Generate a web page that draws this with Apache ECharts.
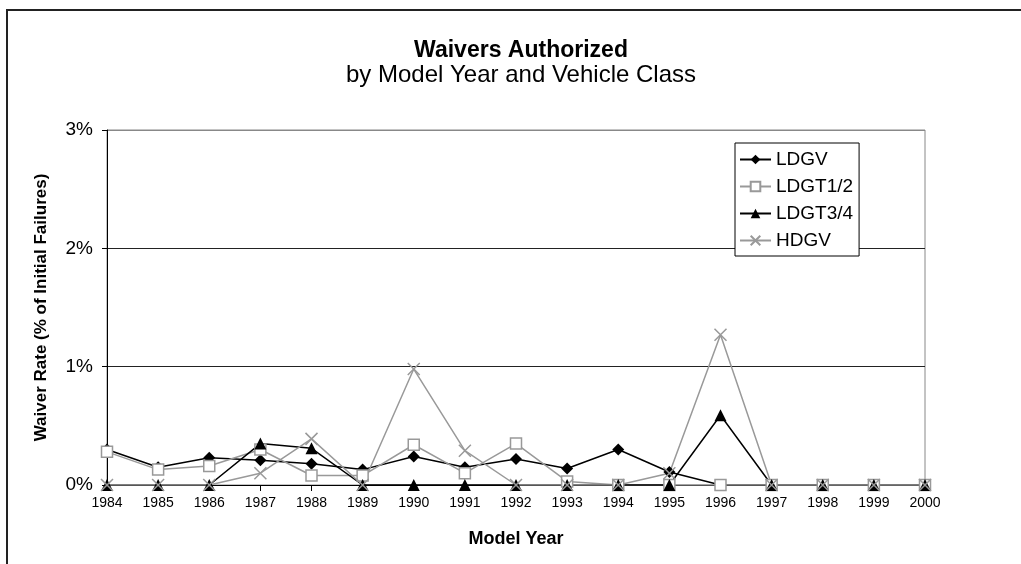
<!DOCTYPE html>
<html>
<head>
<meta charset="utf-8">
<script src="https://cdn.jsdelivr.net/npm/echarts@6/dist/echarts.min.js"></script>
<style>
html, body { margin: 0; padding: 0; background: #fff; }
#chart { width: 1021px; height: 564px; }
</style>
</head>
<body>
<div id="chart"></div>
<script>
// model years
var years = ['1984', '1985', '1986', '1987', '1988', '1989', '1990', '1991', '1992',
    '1993', '1994', '1995', '1996', '1997', '1998', '1999', '2000'];
// waiver rate, percent of initial failures
var ldgv = [0.30, 0.15, 0.23, 0.21, 0.18, 0.13, 0.24, 0.15, 0.22, 0.14, 0.30, 0.11, 0, 0, 0, 0, 0];
var ldgt12 = [0.28, 0.13, 0.16, 0.30, 0.08, 0.08, 0.34, 0.10, 0.35, 0.03, 0, 0, 0, 0, 0, 0, 0];
var ldgt34 = [0, 0, 0, 0.35, 0.31, 0, 0, 0, 0, 0, 0, 0, 0.59, 0, 0, 0, 0];
var hdgv = [0, 0, 0, 0.10, 0.39, 0, 0.98, 0.29, 0, 0, 0, 0.10, 1.27, 0, 0, 0, 0];
var yTicks = [0, 1, 2, 3];

var chart = echarts.init(document.getElementById('chart'));
var font = 'Liberation Sans, Arial, sans-serif';
var crossPath = 'path://M0,0L10,10M10,0L0,10';

var option = {
    animation: false,
    backgroundColor: '#fff',
    textStyle: { fontFamily: font },
    title: {
        text: 'Waivers Authorized',
        subtext: 'by Model Year and Vehicle Class',
        left: 516,
        textAlign: 'center',
        top: 34,
        itemGap: 1,
        textStyle: { fontFamily: font, fontSize: 23, fontWeight: 'bold', color: '#000' },
        subtextStyle: { fontFamily: font, fontSize: 24, color: '#000' }
    },
    graphic: [
        { type: 'line', shape: { x1: 6, y1: 10, x2: 1021, y2: 10 }, style: { stroke: '#222', lineWidth: 2 } },
        { type: 'line', shape: { x1: 7, y1: 10, x2: 7, y2: 564 }, style: { stroke: '#222', lineWidth: 2 } }
    ],
    legend: {
        left: 735,
        top: 143,
        orient: 'vertical',
        backgroundColor: '#fff',
        borderColor: '#000',
        borderWidth: 1,
        padding: [7, 6, 6, 4],
        itemWidth: 31,
        itemHeight: 12,
        itemGap: 8,
        textStyle: { fontFamily: font, fontSize: 19, color: '#000' },
        data: ['LDGV', 'LDGT1/2', 'LDGT3/4', 'HDGV']
    },
    grid: {
        left: 107, right: 96, top: 130, bottom: 79,
        show: true,
        borderColor: '#888',
        borderWidth: 1
    },
    xAxis: {
        type: 'category',
        data: years,
        boundaryGap: false,
        name: 'Model Year',
        nameLocation: 'middle',
        nameGap: 45,
        nameTextStyle: { fontFamily: font, fontSize: 18, fontWeight: 'bold', color: '#000' },
        axisLine: { lineStyle: { color: '#000', width: 1 } },
        axisTick: { show: true, alignWithLabel: true, length: 6, lineStyle: { color: '#000' } },
        axisLabel: { fontFamily: font, fontSize: 14, color: '#000', margin: 11, interval: 0 },
        splitLine: { show: false }
    },
    yAxis: {
        type: 'value',
        min: yTicks[0],
        max: yTicks[yTicks.length - 1],
        interval: 1,
        name: 'Waiver Rate (% of Initial Failures)',
        nameLocation: 'middle',
        nameGap: 57,
        nameTextStyle: { fontFamily: font, fontSize: 17, fontWeight: 'bold', color: '#000' },
        axisLine: { show: true, lineStyle: { color: '#000', width: 1 } },
        axisTick: { show: true, length: 5, lineStyle: { color: '#000' } },
        axisLabel: {
            fontFamily: font, fontSize: 19, color: '#000', margin: 14,
            formatter: function(v) { return v + '%'; }
        },
        splitLine: { show: true, lineStyle: { color: ['#000', '#222', '#222', '#888'], width: 1 } }
    },
    series: [{
            name: 'LDGV',
            type: 'line',
            data: ldgv,
            symbol: 'diamond',
            symbolSize: 12,
            lineStyle: { color: '#000', width: 1.5 },
            itemStyle: { color: '#000' }
        },
        {
            name: 'LDGT1/2',
            type: 'line',
            data: ldgt12,
            symbol: 'rect',
            symbolSize: 11,
            lineStyle: { color: '#999', width: 1.5 },
            itemStyle: { color: '#fff', borderColor: '#999', borderWidth: 1.5 }
        },
        {
            name: 'LDGT3/4',
            type: 'line',
            data: ldgt34,
            symbol: 'triangle',
            symbolSize: 12,
            lineStyle: { color: '#000', width: 1.5 },
            itemStyle: { color: '#000' }
        },
        {
            name: 'HDGV',
            type: 'line',
            data: hdgv,
            symbol: crossPath,
            symbolSize: 12,
            lineStyle: { color: '#999', width: 1.5 },
            itemStyle: { color: 'none', borderColor: '#999', borderWidth: 1.5 }
        }
    ]
};
chart.setOption(option);
</script>
</body>
</html>
